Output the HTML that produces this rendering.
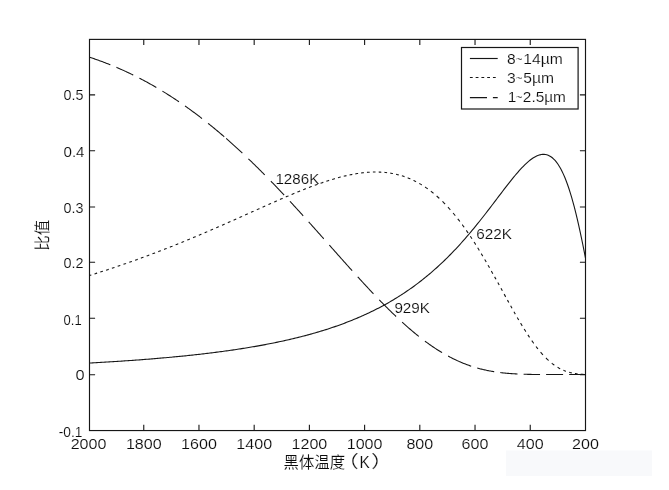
<!DOCTYPE html>
<html lang="zh"><head><meta charset="utf-8"><title>黑体温度 比值</title>
<style>
html,body{margin:0;padding:0;background:#fff;}
body{width:669px;height:490px;overflow:hidden;position:relative;}
svg{position:absolute;left:0;top:0;display:block;}
text{font-family:"Liberation Sans","Noto Sans CJK SC",sans-serif;fill:#0c0c0c;stroke:#fff;stroke-width:0.15px;}
.t{font-size:14.9px;}
.c{font-size:16px;font-weight:400;}
</style></head><body>
<svg width="669" height="490" viewBox="0 0 669 490">
<rect x="0" y="0" width="669" height="490" fill="#ffffff"/>
<rect x="506" y="450.5" width="146" height="25.5" fill="#f8f9fb"/>
<rect x="89.5" y="39.4" width="496.0" height="391.15" fill="none" stroke="#161616" stroke-width="1.15"/>
<path d="M143.76,430.55 v-5.8 M143.76,39.4 v5.6 M198.97,430.55 v-5.8 M198.97,39.4 v5.6 M254.18,430.55 v-5.8 M254.18,39.4 v5.6 M309.39,430.55 v-5.8 M309.39,39.4 v5.6 M364.61,430.55 v-5.8 M364.61,39.4 v5.6 M419.82,430.55 v-5.8 M419.82,39.4 v5.6 M475.03,430.55 v-5.8 M475.03,39.4 v5.6 M530.24,430.55 v-5.8 M530.24,39.4 v5.6 M89.5,374.70 h5.6 M585.5,374.70 h-5.6 M89.5,318.30 h5.6 M585.5,318.30 h-5.6 M89.5,262.20 h5.6 M585.5,262.20 h-5.6 M89.5,207.00 h5.6 M585.5,207.00 h-5.6 M89.5,150.80 h5.6 M585.5,150.80 h-5.6 M89.5,94.90 h5.6 M585.5,94.90 h-5.6" fill="none" stroke="#161616" stroke-width="1.1"/>
<path d="M89.93,363.00 L91.31,362.93 L92.69,362.85 L94.07,362.77 L95.45,362.70 L96.83,362.62 L98.21,362.54 L99.59,362.46 L100.97,362.38 L102.35,362.30 L103.73,362.22 L105.11,362.13 L106.49,362.05 L107.87,361.97 L109.25,361.88 L110.63,361.80 L112.01,361.71 L113.39,361.63 L114.78,361.54 L116.16,361.45 L117.54,361.36 L118.92,361.27 L120.30,361.18 L121.68,361.09 L123.06,361.00 L124.44,360.91 L125.82,360.81 L127.20,360.72 L128.58,360.62 L129.96,360.53 L131.34,360.43 L132.72,360.33 L134.10,360.23 L135.48,360.13 L136.86,360.03 L138.24,359.93 L139.62,359.83 L141.00,359.72 L142.38,359.62 L143.76,359.51 L145.14,359.41 L146.52,359.30 L147.90,359.19 L149.28,359.08 L150.66,358.97 L152.04,358.86 L153.42,358.74 L154.80,358.63 L156.18,358.52 L157.56,358.40 L158.94,358.28 L160.32,358.16 L161.70,358.04 L163.08,357.92 L164.47,357.80 L165.85,357.68 L167.23,357.56 L168.61,357.43 L169.99,357.30 L171.37,357.18 L172.75,357.05 L174.13,356.92 L175.51,356.79 L176.89,356.65 L178.27,356.52 L179.65,356.38 L181.03,356.25 L182.41,356.11 L183.79,355.97 L185.17,355.83 L186.55,355.69 L187.93,355.54 L189.31,355.40 L190.69,355.25 L192.07,355.11 L193.45,354.96 L194.83,354.80 L196.21,354.65 L197.59,354.50 L198.97,354.34 L200.35,354.19 L201.73,354.03 L203.11,353.87 L204.49,353.71 L205.87,353.54 L207.25,353.38 L208.63,353.21 L210.01,353.04 L211.39,352.87 L212.78,352.70 L214.16,352.52 L215.54,352.35 L216.92,352.17 L218.30,351.99 L219.68,351.81 L221.06,351.63 L222.44,351.44 L223.82,351.25 L225.20,351.07 L226.58,350.87 L227.96,350.68 L229.34,350.49 L230.72,350.29 L232.10,350.09 L233.48,349.89 L234.86,349.68 L236.24,349.48 L237.62,349.27 L239.00,349.06 L240.38,348.85 L241.76,348.63 L243.14,348.41 L244.52,348.19 L245.90,347.97 L247.28,347.75 L248.66,347.52 L250.04,347.29 L251.42,347.06 L252.80,346.82 L254.18,346.59 L255.56,346.35 L256.94,346.11 L258.32,345.86 L259.70,345.61 L261.08,345.36 L262.46,345.11 L263.85,344.85 L265.23,344.59 L266.61,344.33 L267.99,344.06 L269.37,343.80 L270.75,343.52 L272.13,343.25 L273.51,342.97 L274.89,342.69 L276.27,342.41 L277.65,342.12 L279.03,341.83 L280.41,341.54 L281.79,341.24 L283.17,340.94 L284.55,340.63 L285.93,340.33 L287.31,340.01 L288.69,339.70 L290.07,339.38 L291.45,339.06 L292.83,338.73 L294.21,338.40 L295.59,338.07 L296.97,337.73 L298.35,337.39 L299.73,337.04 L301.11,336.69 L302.49,336.33 L303.87,335.97 L305.25,335.61 L306.63,335.24 L308.01,334.87 L309.39,334.49 L310.77,334.11 L312.16,333.73 L313.54,333.34 L314.92,332.94 L316.30,332.54 L317.68,332.13 L319.06,331.72 L320.44,331.31 L321.82,330.89 L323.20,330.46 L324.58,330.03 L325.96,329.60 L327.34,329.15 L328.72,328.71 L330.10,328.25 L331.48,327.79 L332.86,327.33 L334.24,326.86 L335.62,326.38 L337.00,325.90 L338.38,325.41 L339.76,324.92 L341.14,324.42 L342.52,323.91 L343.90,323.40 L345.28,322.88 L346.66,322.35 L348.04,321.82 L349.42,321.28 L350.80,320.73 L352.18,320.17 L353.56,319.61 L354.94,319.04 L356.32,318.47 L357.70,317.88 L359.08,317.29 L360.46,316.69 L361.85,316.08 L363.23,315.47 L364.61,314.84 L365.99,314.21 L367.37,313.57 L368.75,312.93 L370.13,312.27 L371.51,311.60 L372.89,310.93 L374.27,310.25 L375.65,309.55 L377.03,308.85 L378.41,308.14 L379.79,307.42 L381.17,306.69 L382.55,305.95 L383.93,305.20 L385.31,304.45 L386.69,303.68 L388.07,302.90 L389.45,302.11 L390.83,301.31 L392.21,300.50 L393.59,299.67 L394.97,298.84 L396.35,298.00 L397.73,297.14 L399.11,296.27 L400.49,295.40 L401.87,294.51 L403.25,293.60 L404.63,292.69 L406.01,291.76 L407.39,290.82 L408.77,289.87 L410.15,288.91 L411.54,287.93 L412.92,286.94 L414.30,285.94 L415.68,284.92 L417.06,283.89 L418.44,282.85 L419.82,281.79 L421.20,280.72 L422.58,279.64 L423.96,278.54 L425.34,277.42 L426.72,276.29 L428.10,275.15 L429.48,273.99 L430.86,272.82 L432.24,271.63 L433.62,270.43 L435.00,269.21 L436.38,267.97 L437.76,266.72 L439.14,265.46 L440.52,264.18 L441.90,262.88 L443.28,261.57 L444.66,260.24 L446.04,258.89 L447.42,257.53 L448.80,256.15 L450.18,254.75 L451.56,253.34 L452.94,251.91 L454.32,250.47 L455.70,249.01 L457.08,247.53 L458.46,246.04 L459.84,244.53 L461.23,243.00 L462.61,241.46 L463.99,239.90 L465.37,238.32 L466.75,236.73 L468.13,235.13 L469.51,233.51 L470.89,231.87 L472.27,230.22 L473.65,228.55 L475.03,226.87 L476.41,225.18 L477.79,223.47 L479.17,221.75 L480.55,220.01 L481.93,218.27 L483.31,216.51 L484.69,214.75 L486.07,212.97 L487.45,211.18 L488.83,209.39 L490.21,207.59 L491.59,205.78 L492.97,203.97 L494.35,202.15 L495.73,200.33 L497.11,198.51 L498.49,196.69 L499.87,194.87 L501.25,193.05 L502.63,191.24 L504.01,189.44 L505.39,187.64 L506.77,185.85 L508.15,184.08 L509.53,182.33 L510.92,180.59 L512.30,178.87 L513.68,177.18 L515.06,175.51 L516.44,173.87 L517.82,172.27 L519.20,170.71 L520.58,169.18 L521.96,167.70 L523.34,166.27 L524.72,164.89 L526.10,163.58 L527.48,162.32 L528.86,161.14 L530.24,160.02 L531.62,158.99 L533.00,158.05 L534.38,157.19 L535.76,156.44 L537.14,155.79 L538.52,155.25 L539.90,154.84 L541.28,154.55 L542.66,154.39 L544.04,154.38 L545.42,154.52 L546.80,154.82 L548.18,155.29 L549.56,155.94 L550.94,156.77 L552.32,157.80 L553.70,159.03 L555.08,160.48 L556.46,162.15 L557.84,164.05 L559.22,166.19 L560.61,168.58 L561.99,171.22 L563.37,174.13 L564.75,177.31 L566.13,180.76 L567.51,184.50 L568.89,188.52 L570.27,192.83 L571.65,197.42 L573.03,202.30 L574.41,207.47 L575.79,212.92 L577.17,218.64 L578.55,224.62 L579.93,230.86 L581.31,237.33 L582.69,244.01 L584.07,250.89 L585.45,257.94" fill="none" stroke="#161616" stroke-width="1.1"/>
<path d="M89.52,275.46 L90.34,275.20 L91.17,274.94 L91.31,274.90 M94.49,273.91 L95.31,273.65 L96.14,273.38 L96.97,273.12 L97.11,273.08 M100.28,272.06 L101.11,271.80 L101.94,271.53 L102.77,271.26 L102.90,271.22 M106.08,270.19 L106.91,269.92 L107.74,269.65 L108.56,269.37 L108.70,269.33 M111.88,268.28 L112.70,268.00 L113.53,267.72 L114.36,267.44 L114.50,267.40 M117.67,266.33 L118.50,266.04 L119.33,265.76 L120.16,265.48 L120.30,265.43 M123.47,264.34 L124.30,264.05 L125.13,263.77 L125.96,263.48 L126.09,263.43 M129.27,262.32 L130.10,262.03 L130.92,261.73 L131.75,261.44 L131.89,261.39 M135.07,260.26 L135.89,259.96 L136.72,259.67 L137.55,259.37 L137.69,259.32 M140.86,258.17 L141.69,257.86 L142.52,257.56 L143.35,257.26 L143.49,257.21 M146.66,256.04 L147.49,255.73 L148.32,255.42 L149.14,255.11 L149.28,255.06 M152.46,253.87 L153.29,253.55 L154.11,253.24 L154.94,252.93 L155.08,252.88 M158.25,251.66 L159.08,251.35 L159.91,251.03 L160.74,250.71 L160.88,250.66 M164.05,249.42 L164.88,249.10 L165.71,248.78 L166.54,248.45 L166.67,248.40 M169.85,247.15 L170.68,246.82 L171.50,246.49 L172.33,246.17 L172.47,246.11 M175.65,244.84 L176.47,244.51 L177.30,244.18 L178.13,243.84 L178.27,243.79 M181.44,242.50 L182.27,242.16 L183.10,241.82 L183.93,241.49 L184.07,241.43 M187.24,240.12 L188.07,239.78 L188.90,239.44 L189.72,239.10 L189.86,239.04 M193.04,237.72 L193.87,237.37 L194.69,237.02 L195.52,236.68 L195.66,236.62 M198.83,235.28 L199.66,234.93 L200.49,234.58 L201.32,234.23 L201.46,234.17 M204.63,232.82 L205.46,232.46 L206.29,232.11 L207.12,231.75 L207.25,231.69 M210.43,230.32 L211.26,229.96 L212.08,229.61 L212.91,229.25 L213.05,229.19 M216.23,227.81 L217.05,227.44 L217.88,227.08 L218.71,226.72 L218.85,226.66 M222.02,225.27 L222.85,224.90 L223.68,224.54 L224.51,224.17 L224.65,224.11 M227.82,222.71 L228.65,222.34 L229.48,221.98 L230.30,221.61 L230.44,221.55 M233.62,220.13 L234.45,219.77 L235.27,219.40 L236.10,219.03 L236.24,218.97 M239.41,217.55 L240.24,217.18 L241.07,216.81 L241.90,216.44 L242.04,216.37 M245.21,214.95 L246.04,214.58 L246.87,214.21 L247.70,213.84 L247.83,213.77 M251.01,212.35 L251.84,211.98 L252.67,211.61 L253.49,211.24 L253.63,211.17 M256.81,209.75 L257.63,209.38 L258.46,209.01 L259.29,208.64 L259.43,208.58 M262.60,207.16 L263.43,206.79 L264.26,206.42 L265.09,206.05 L265.23,205.99 M268.40,204.57 L269.23,204.21 L270.06,203.84 L270.88,203.47 L271.02,203.41 M274.20,202.01 L275.03,201.64 L275.85,201.28 L276.68,200.92 L276.82,200.86 M279.99,199.47 L280.82,199.11 L281.65,198.75 L282.48,198.39 L282.62,198.33 M285.79,196.97 L286.62,196.61 L287.45,196.26 L288.28,195.91 L288.41,195.85 M291.59,194.51 L292.42,194.16 L293.25,193.81 L294.07,193.47 L294.35,193.35 M297.39,192.10 L298.21,191.76 L299.04,191.42 L299.87,191.09 L300.15,190.98 M303.18,189.76 L304.01,189.43 L304.84,189.10 L305.67,188.77 L305.94,188.67 M308.98,187.49 L309.81,187.17 L310.64,186.86 L311.46,186.54 L311.74,186.44 M314.78,185.31 L315.61,185.00 L316.43,184.70 L317.26,184.40 L317.54,184.30 M320.57,183.23 L321.40,182.94 L322.23,182.66 L323.06,182.37 L323.34,182.28 M326.37,181.27 L327.20,181.00 L328.03,180.73 L328.86,180.47 L329.13,180.38 M332.17,179.44 L333.00,179.19 L333.83,178.95 L334.65,178.71 L334.93,178.63 M337.97,177.77 L338.79,177.54 L339.62,177.32 L340.45,177.10 L340.73,177.03 M343.76,176.26 L344.59,176.06 L345.42,175.87 L346.25,175.68 L346.52,175.61 M349.56,174.95 L350.39,174.78 L351.22,174.61 L352.05,174.45 L352.32,174.40 M355.36,173.85 L356.19,173.71 L357.01,173.58 L357.84,173.45 L358.12,173.41 M361.15,172.98 L361.98,172.88 L362.81,172.78 L363.64,172.69 L363.92,172.66 M366.95,172.38 L367.78,172.32 L368.61,172.26 L369.44,172.21 L369.71,172.19 M372.89,172.06 L373.72,172.04 L374.54,172.03 L375.37,172.02 L375.51,172.02 M378.68,172.06 L379.51,172.09 L380.34,172.12 L381.17,172.17 L381.31,172.17 M384.48,172.41 L385.31,172.49 L386.14,172.58 L386.97,172.67 L387.10,172.69 M390.28,173.13 L391.11,173.27 L391.94,173.41 L392.76,173.56 L392.90,173.59 M396.08,174.26 L396.90,174.45 L397.73,174.66 L398.56,174.87 L398.70,174.91 M401.87,175.82 L402.70,176.08 L403.53,176.35 L404.36,176.62 L404.50,176.67 M407.67,177.84 L408.50,178.17 L409.33,178.51 L410.15,178.86 L410.29,178.92 M413.47,180.36 L414.30,180.77 L415.12,181.18 L415.95,181.61 L416.09,181.68 M419.26,183.41 L420.09,183.90 L420.92,184.39 L421.75,184.89 L421.89,184.98 M425.06,187.02 L425.89,187.58 L426.72,188.16 L427.55,188.74 L427.68,188.84 M430.86,191.21 L431.69,191.86 L432.52,192.52 L433.34,193.19 L433.48,193.30 M436.66,196.00 L437.48,196.74 L438.31,197.49 L439.14,198.25 L439.28,198.38 M442.45,201.42 L443.28,202.24 L444.11,203.08 L444.94,203.93 L445.08,204.08 M447.97,207.17 L448.80,208.08 L449.63,209.01 L450.32,209.79 M453.08,213.00 L453.91,213.99 L454.74,215.00 L455.29,215.68 M457.77,218.80 L458.60,219.86 L459.43,220.94 L459.84,221.49 M462.19,224.63 L463.02,225.76 L463.85,226.91 L464.12,227.29 M466.33,230.42 L467.16,231.61 L467.99,232.82 L468.13,233.02 M470.33,236.30 L471.16,237.55 L471.99,238.81 L471.99,238.81 M474.06,242.01 L474.89,243.31 L475.72,244.62 L475.72,244.62 M477.65,247.72 L478.48,249.06 L479.31,250.41 L479.31,250.41 M481.24,253.61 L482.07,254.99 L482.76,256.15 M484.69,259.43 L485.52,260.85 L486.21,262.04 M488.00,265.15 L488.83,266.59 L489.52,267.80 M491.32,270.97 L492.14,272.44 L492.83,273.67 M494.63,276.88 L495.46,278.37 L496.01,279.36 M497.80,282.60 L498.63,284.10 L499.18,285.10 M500.98,288.36 L501.81,289.86 L502.36,290.86 M504.15,294.12 L504.98,295.63 L505.67,296.88 M507.46,300.13 L508.29,301.62 L508.84,302.61 M510.64,305.83 L511.47,307.31 L512.02,308.30 M513.95,311.72 L514.78,313.17 L515.33,314.14 M517.26,317.49 L518.09,318.91 L518.78,320.09 M520.58,323.11 L521.41,324.49 L522.23,325.86 L522.23,325.86 M524.17,329.01 L524.99,330.33 L525.82,331.64 L525.82,331.64 M527.89,334.86 L528.72,336.11 L529.55,337.36 L529.55,337.36 M531.76,340.59 L532.59,341.76 L533.41,342.93 L533.69,343.31 M536.04,346.47 L536.86,347.55 L537.69,348.61 L537.97,348.96 M540.59,352.15 L541.42,353.11 L542.25,354.05 L542.94,354.81 M545.97,358.00 L546.80,358.81 L547.63,359.60 L548.46,360.37 L548.60,360.49 M551.77,363.20 L552.60,363.85 L553.43,364.47 L554.26,365.08 L554.39,365.17 M557.57,367.26 L558.40,367.74 L559.22,368.21 L560.05,368.66 L560.19,368.73 M563.37,370.23 L564.19,370.57 L565.02,370.89 L565.85,371.20 L565.99,371.24 M569.16,372.24 L569.99,372.45 L570.82,372.66 L571.65,372.85 L571.79,372.88 M574.96,373.47 L575.79,373.59 L576.62,373.70 L577.44,373.81 L577.58,373.82 M580.76,374.13 L581.59,374.19 L582.41,374.24 L583.24,374.29 L583.38,374.30" fill="none" stroke="#161616" stroke-width="1.08"/>
<path d="M89.52,57.21 L90.34,57.48 L91.17,57.75 L92.00,58.03 L92.83,58.31 L93.66,58.59 L94.49,58.88 L95.31,59.17 L96.14,59.46 L96.97,59.75 L97.80,60.04 L98.63,60.34 L99.45,60.64 L100.28,60.94 L101.11,61.25 L101.94,61.55 L102.77,61.86 L103.60,62.17 L104.42,62.49 L105.25,62.81 L106.08,63.13 L106.91,63.45 L107.74,63.77 L108.56,64.10 L109.39,64.43 L110.22,64.76 L110.36,64.82 M116.43,67.34 L117.26,67.69 L118.09,68.05 L118.92,68.41 L119.74,68.77 L120.57,69.14 L121.40,69.50 L122.23,69.87 L123.06,70.25 L123.89,70.62 L124.71,71.00 L125.54,71.38 L126.37,71.76 L127.20,72.15 L128.03,72.54 L128.85,72.93 L129.68,73.32 L130.51,73.72 L131.34,74.12 L132.17,74.52 L132.99,74.93 L133.27,75.06 M139.34,78.12 L140.17,78.55 L141.00,78.99 L141.83,79.42 L142.66,79.86 L143.49,80.30 L144.31,80.74 L145.14,81.18 L145.97,81.63 L146.80,82.08 L147.63,82.54 L148.45,82.99 L149.28,83.45 L150.11,83.91 L150.94,84.38 L151.77,84.85 L152.59,85.32 L153.42,85.79 L154.25,86.27 L155.08,86.74 L155.91,87.23 L156.32,87.47 M162.39,91.10 L163.22,91.60 L164.05,92.11 L164.88,92.63 L165.71,93.14 L166.54,93.66 L167.36,94.18 L168.19,94.70 L169.02,95.23 L169.85,95.76 L170.68,96.29 L171.50,96.83 L172.33,97.36 L173.16,97.91 L173.99,98.45 L174.82,99.00 L175.65,99.55 L176.47,100.10 L177.30,100.65 L178.13,101.21 L178.96,101.77 L178.96,101.77 M185.03,105.97 L185.86,106.56 L186.69,107.14 L187.52,107.74 L188.34,108.33 L189.17,108.93 L190.00,109.52 L190.83,110.13 L191.66,110.73 L192.48,111.34 L193.31,111.95 L194.14,112.56 L194.97,113.18 L195.80,113.80 L196.63,114.42 L197.45,115.05 L198.28,115.67 L199.11,116.30 L199.94,116.94 L200.77,117.57 L201.59,118.21 L202.01,118.53 M208.08,123.32 L208.91,123.98 L209.74,124.65 L210.57,125.32 L211.39,125.99 L212.22,126.67 L213.05,127.34 L213.88,128.02 L214.71,128.71 L215.54,129.39 L216.36,130.08 L217.19,130.78 L218.02,131.47 L218.85,132.17 L219.68,132.87 L220.50,133.57 L221.33,134.28 L222.16,134.99 L222.99,135.70 L223.82,136.41 L224.23,136.77 M226.16,138.45 L226.99,139.17 L227.82,139.90 L228.65,140.63 L229.48,141.36 L230.30,142.10 L231.13,142.83 L231.96,143.58 L232.79,144.32 L233.62,145.06 L234.45,145.81 L235.27,146.56 L236.10,147.32 L236.93,148.07 L237.76,148.83 L238.59,149.59 L239.41,150.36 L240.24,151.12 L241.07,151.89 L241.90,152.66 L242.31,153.05 M248.39,158.79 L249.21,159.59 L250.04,160.38 L250.87,161.18 L251.70,161.98 L252.53,162.78 L253.36,163.59 L254.18,164.40 L255.01,165.21 L255.84,166.02 L256.67,166.84 L257.50,167.65 L258.32,168.47 L259.15,169.29 L259.98,170.12 L260.81,170.94 L261.64,171.77 L262.46,172.60 L263.29,173.44 L264.12,174.27 L264.81,174.97 M270.88,181.17 L271.71,182.03 L272.54,182.88 L273.37,183.74 L274.20,184.60 L275.03,185.46 L275.85,186.33 L276.68,187.19 L277.51,188.06 L278.34,188.93 L279.17,189.80 L279.99,190.68 L280.82,191.55 L281.65,192.43 L282.48,193.31 L283.31,194.19 L284.14,195.07 L284.14,195.07 M289.93,201.29 L290.76,202.19 L291.59,203.08 L292.42,203.98 L293.25,204.88 L294.07,205.78 L294.90,206.69 L295.73,207.59 L296.56,208.50 L297.39,209.40 L298.21,210.31 L299.04,211.22 L299.87,212.13 L300.70,213.04 L301.53,213.95 L302.36,214.87 L303.18,215.78 L303.18,215.78 M308.70,221.91 L309.53,222.83 L310.36,223.76 L311.19,224.68 L312.02,225.61 L312.85,226.53 L313.67,227.46 L314.50,228.39 L315.33,229.32 L316.16,230.25 L316.99,231.18 L317.81,232.11 L318.64,233.04 L319.47,233.97 L320.30,234.90 L321.13,235.83 L321.95,236.76 L322.78,237.70 L323.61,238.63 L323.75,238.78 M329.27,245.01 L330.10,245.94 L330.93,246.88 L331.75,247.81 L332.58,248.75 L333.41,249.68 L334.24,250.62 L335.07,251.55 L335.90,252.48 L336.72,253.42 L337.55,254.35 L338.38,255.28 L339.21,256.21 L340.04,257.14 L340.86,258.07 L341.69,259.00 L342.52,259.93 L343.35,260.86 L344.18,261.79 L345.01,262.72 L345.83,263.65 L346.66,264.57 L347.49,265.50 L348.32,266.42 L349.15,267.35 L349.97,268.27 L350.80,269.19 L351.63,270.11 L352.18,270.72 M357.70,276.82 L358.53,277.73 L359.36,278.64 L360.19,279.54 L361.02,280.45 L361.85,281.35 L362.67,282.25 L363.50,283.15 L364.33,284.05 L365.16,284.94 L365.99,285.84 L366.81,286.73 L367.64,287.62 L368.47,288.50 L369.30,289.39 L370.13,290.27 L370.95,291.15 L371.78,292.03 L372.61,292.91 L373.44,293.78 L373.44,293.78 M379.24,299.82 L380.06,300.68 L380.89,301.53 L381.72,302.37 L382.55,303.21 L383.38,304.06 L384.21,304.89 L385.03,305.73 L385.86,306.56 L386.69,307.39 L387.52,308.21 L388.35,309.03 L389.17,309.85 L390.00,310.66 L390.83,311.47 L391.66,312.28 L392.49,313.08 L393.32,313.88 L394.14,314.68 L394.97,315.47 L395.80,316.26 L396.08,316.52 M402.15,322.16 L402.98,322.92 L403.81,323.66 L404.63,324.41 L405.46,325.15 L406.29,325.88 L407.12,326.61 L407.95,327.34 L408.77,328.06 L409.60,328.77 L410.43,329.48 L411.26,330.19 L412.09,330.89 L412.92,331.59 L413.74,332.28 L414.57,332.97 L415.40,333.65 L416.23,334.32 L417.06,334.99 L417.88,335.66 L418.71,336.32 L418.85,336.43 M424.92,341.10 L425.75,341.72 L426.58,342.33 L427.41,342.93 L428.24,343.53 L429.06,344.12 L429.89,344.70 L430.72,345.28 L431.55,345.86 L432.38,346.43 L433.21,346.99 L434.03,347.55 L434.86,348.10 L435.69,348.64 L436.52,349.18 L437.35,349.71 L438.17,350.24 L439.00,350.76 L439.83,351.27 L440.66,351.78 L441.49,352.28 L442.04,352.61 M448.11,356.07 L448.94,356.52 L449.77,356.96 L450.60,357.39 L451.43,357.82 L452.25,358.24 L453.08,358.65 L453.91,359.06 L454.74,359.46 L455.57,359.86 L456.39,360.25 L457.22,360.63 L458.05,361.01 L458.88,361.38 L459.71,361.74 L460.53,362.10 L461.36,362.45 L462.19,362.80 L463.02,363.14 L463.85,363.47 L464.68,363.80 L465.50,364.12 L466.33,364.43 L467.16,364.74 L467.99,365.04 L468.82,365.34 L469.64,365.63 L470.47,365.91 L471.16,366.15 M477.24,368.02 L478.06,368.25 L478.89,368.47 L479.72,368.69 L480.55,368.91 L481.38,369.12 L482.21,369.32 L483.03,369.52 L483.86,369.72 L484.69,369.90 L485.52,370.09 L486.35,370.27 L487.17,370.44 L488.00,370.61 L488.83,370.77 L489.66,370.93 L490.49,371.08 L491.32,371.23 L492.14,371.38 L492.97,371.52 L493.80,371.65 L494.21,371.72 M500.29,372.57 L501.12,372.67 L501.94,372.77 L502.77,372.86 L503.60,372.95 L504.43,373.03 L505.26,373.11 L506.08,373.19 L506.91,373.27 L507.74,373.34 L508.57,373.41 L509.40,373.48 L510.22,373.54 L511.05,373.60 L511.88,373.66 L512.71,373.71 L513.54,373.77 L514.37,373.82 L515.19,373.86 L516.02,373.91 L516.85,373.95 L517.54,373.98 M523.61,374.23 L524.44,374.25 L525.27,374.28 L526.10,374.30 L526.93,374.32 L527.75,374.34 L528.58,374.36 L529.41,374.38 L530.24,374.39 L531.07,374.41 L531.90,374.42 L532.72,374.43 L533.55,374.45 L534.38,374.46 L535.21,374.47 L536.04,374.48 L536.86,374.49 L537.69,374.49 L538.52,374.50 L539.35,374.51 L540.04,374.51 M546.11,374.55 L546.94,374.55 L547.77,374.55 L548.60,374.55 L549.42,374.56 L550.25,374.56 L551.08,374.56 L551.91,374.56 L552.74,374.56 L553.57,374.56 L554.39,374.57 L555.22,374.57 L556.05,374.57 L556.88,374.57 L557.71,374.57 L558.53,374.57 L559.36,374.57 L560.19,374.57 L561.02,374.57 L561.85,374.57 L562.68,374.57 L563.09,374.57 M569.16,374.57 L569.99,374.57 L570.82,374.57 L571.65,374.57 L572.48,374.57 L573.30,374.57 L574.13,374.57 L574.96,374.57 L575.79,374.57 L576.62,374.57 L577.44,374.57 L578.27,374.57 L579.10,374.57 L579.93,374.57 L580.76,374.57 L581.59,374.57 L582.41,374.57 L583.24,374.57 L584.07,374.57 L584.90,374.57 L585.45,374.57" fill="none" stroke="#161616" stroke-width="1.08"/>
<text class="t" text-anchor="middle" transform="translate(88.55,448.9) scale(1.08,1)">2000</text>
<text class="t" text-anchor="middle" transform="translate(143.76,448.9) scale(1.08,1)">1800</text>
<text class="t" text-anchor="middle" transform="translate(198.97,448.9) scale(1.08,1)">1600</text>
<text class="t" text-anchor="middle" transform="translate(254.18,448.9) scale(1.08,1)">1400</text>
<text class="t" text-anchor="middle" transform="translate(309.39,448.9) scale(1.08,1)">1200</text>
<text class="t" text-anchor="middle" transform="translate(364.61,448.9) scale(1.08,1)">1000</text>
<text class="t" text-anchor="middle" transform="translate(419.82,448.9) scale(1.08,1)">800</text>
<text class="t" text-anchor="middle" transform="translate(475.03,448.9) scale(1.08,1)">600</text>
<text class="t" text-anchor="middle" transform="translate(530.24,448.9) scale(1.08,1)">400</text>
<text class="t" text-anchor="middle" transform="translate(585.45,448.9) scale(1.08,1)">200</text>
<text class="t" transform="translate(58.80,436.80) scale(0.9218,1)">-0.1</text>
<text class="t" transform="translate(75.44,380.25) scale(1.0986,1)">0</text>
<text class="t" transform="translate(63.58,324.50) scale(0.8711,1)">0.1</text>
<text class="t" transform="translate(63.52,268.40) scale(0.9691,1)">0.2</text>
<text class="t" transform="translate(63.52,213.00) scale(0.9641,1)">0.3</text>
<text class="t" transform="translate(63.49,156.50) scale(1.0152,1)">0.4</text>
<text class="t" transform="translate(63.52,100.40) scale(0.9641,1)">0.5</text>
<text class="t" transform="translate(275.43,183.70) scale(1.0180,1)">1286K</text>
<text class="t" transform="translate(394.38,312.80) scale(1.0236,1)">929K</text>
<text class="t" transform="translate(476.13,238.90) scale(1.0281,1)">622K</text>
<rect x="461.5" y="47.5" width="116.6" height="61.5" fill="#fff" stroke="#161616" stroke-width="1.2"/>
<path d="M469.9,58.5 H497.7" stroke="#161616" stroke-width="1.15" fill="none"/>
<path d="M469.9,77.5 H497.7" stroke="#161616" stroke-width="1.15" fill="none" stroke-dasharray="2.8 2.96"/>
<path d="M469.9,97.6 H487 M492.9,97.6 H497.7" stroke="#161616" stroke-width="1.15" fill="none"/>
<text class="t" transform="translate(0,64.00) scale(1.0494,1)"><tspan x="483.17">8</tspan><tspan x="491.44" dy="-0.6" font-size="10.94">~</tspan><tspan x="498.68" dy="0.6">14µm</tspan></text>
<text class="t" transform="translate(0,83.00) scale(1.0505,1)"><tspan x="482.72">3</tspan><tspan x="490.89" dy="-0.6" font-size="10.92">~</tspan><tspan x="498.10" dy="0.6">5µm</tspan></text>
<text class="t" transform="translate(0,102.00) scale(1.0350,1)"><tspan x="490.64">1</tspan><tspan x="498.26" dy="-0.6" font-size="11.09">~</tspan><tspan x="505.14" dy="0.6">2.5µm</tspan></text>
<text class="c" transform="translate(283.5,468.0) scale(0.962,1.03)">黑体温度</text>
<text class="c" transform="translate(336.5,468.3) scale(1.4,1.06)">（</text>
<text class="c" transform="translate(359.5,468.0) scale(0.962,1.03)">K</text>
<text class="c" transform="translate(370.9,468.3) scale(1.4,1.06)">）</text>
<text class="c" text-anchor="middle" transform="translate(48.3,235.3) rotate(-90) scale(0.96,1.02)">比值</text>
</svg>
</body></html>
